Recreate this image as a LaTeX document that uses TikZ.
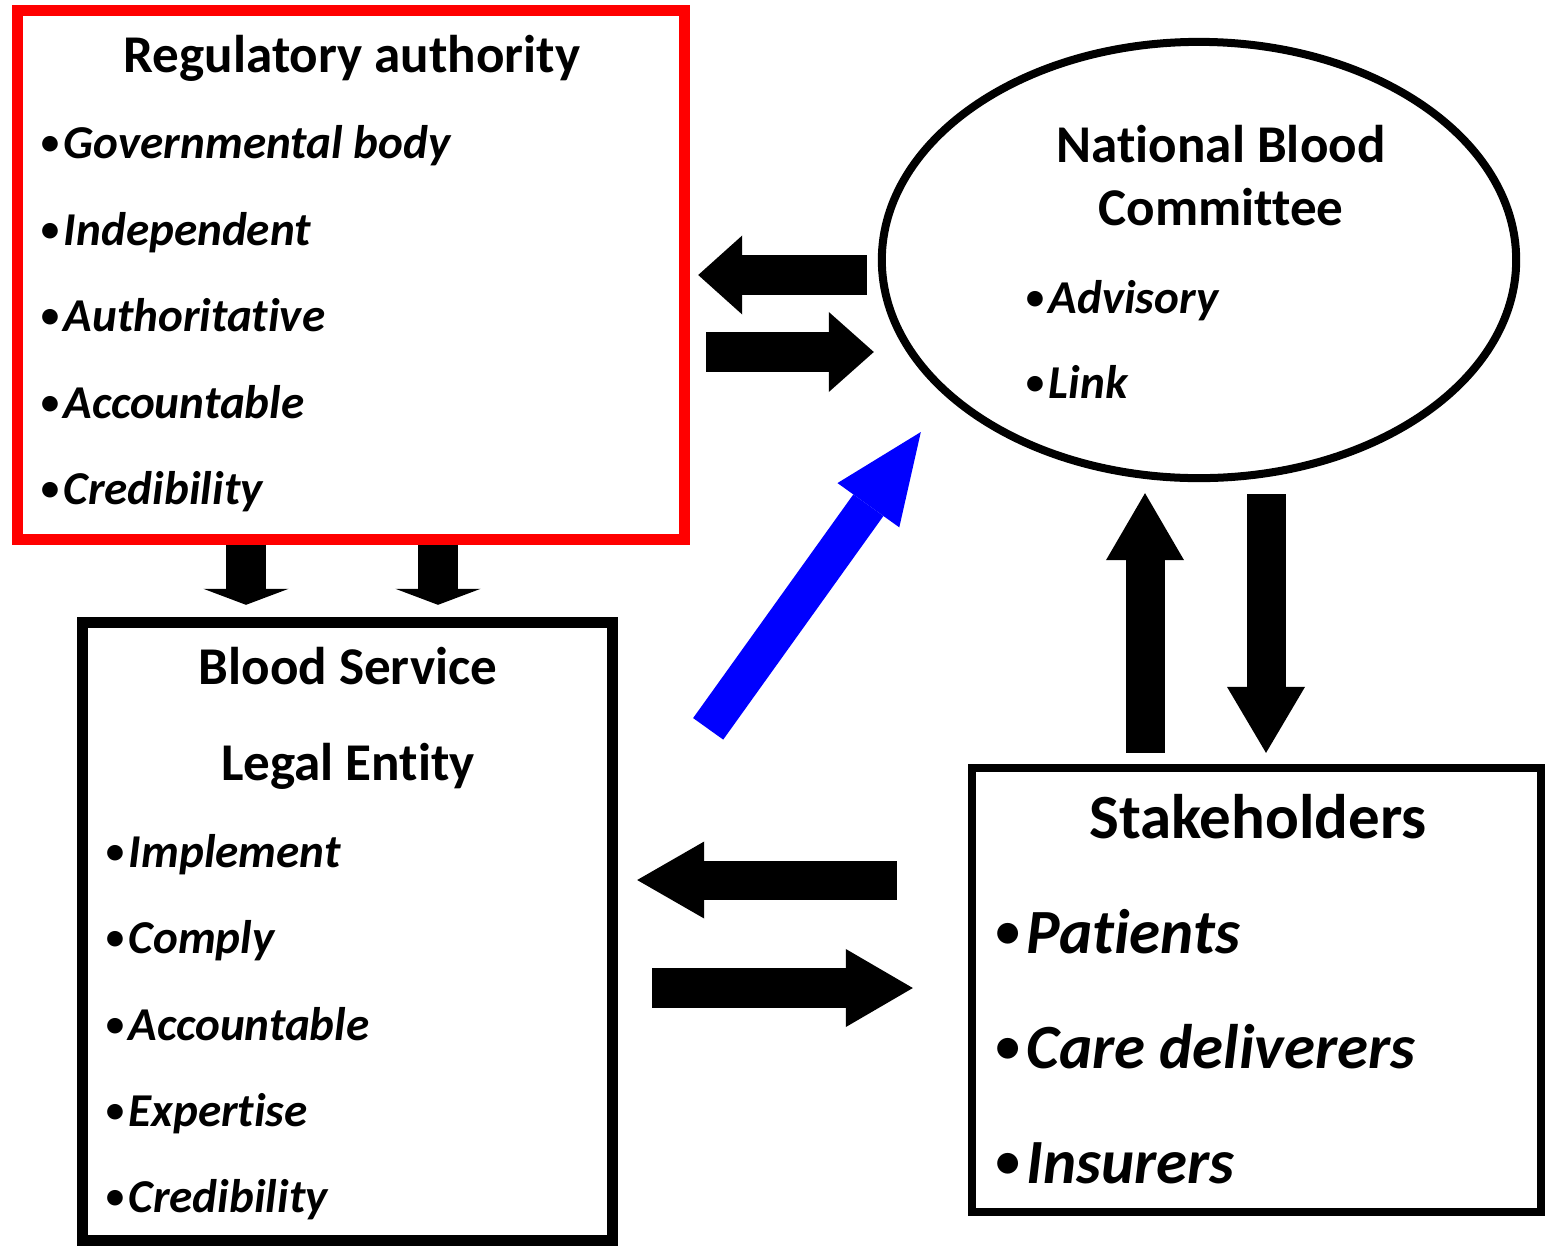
\documentclass[tikz,border=0pt]{standalone}
\usepackage{fontspec}
\setmainfont{Carlito}[Ligatures=NoCommon]
\usetikzlibrary{shapes.geometric, arrows.meta}

\newcommand\bul{\raisebox{0.08em}{\scalebox{0.78}{•}}\hspace{0.1em}}

\tikzset{
    box/.style={draw, rectangle, line width=1.1mm},
    heading/.style={inner sep=0pt, anchor=base, font=\bfseries\fontsize{15.1pt}{18pt}\selectfont},
    bigheading/.style={inner sep=0pt, anchor=base, font=\bfseries\fontsize{17.9pt}{21pt}\selectfont},
    item/.style={inner sep=0pt, anchor=base west, font=\bfseries\itshape\fontsize{13.4pt}{16pt}\selectfont},
    bigitem/.style={inner sep=0pt, anchor=base west, font=\bfseries\itshape\fontsize{17.9pt}{21pt}\selectfont},
    wide arrow/.style n args={2}{line width=4mm, -{Triangle[length=#1, width=#2, line width=0pt]}}
}

\begin{document}
\begin{tikzpicture}[x=0.01cm, y=-0.01cm]
    \useasboundingbox (0,0) rectangle (1546,1245);

    % the four bodies
    \node[box, draw=red, minimum width=6.66cm, minimum height=5.28cm] (reg) at (351,275) {};
    \node[box, minimum width=5.29cm, minimum height=6.17cm] (blood) at (347.5,931.5) {};
    \node[draw, ellipse, line width=0.8mm, minimum width=6.34cm, minimum height=4.36cm] (nbc) at (1199,260) {};
    \node[box, line width=0.8mm, minimum width=5.69cm, minimum height=4.44cm] (stake) at (1256.5,990) {};

    % regulatory authority
    \node[heading] (rtitle) at (352,72) {Regulatory authority};
    \node[item] (rgov) at (40,158) {\bul Governmental body};
    \node[item] (rind) at (40,245) {\bul Independent};
    \node[item] (rauth) at (40,331) {\bul Authoritative};
    \node[item] (racc) at (40,418) {\bul Accountable};
    \node[item] (rcred) at (40,504) {\bul Credibility};

    % blood service
    \node[heading] (btitle) at (348,684) {Blood Service};
    \node[heading] (blegal) at (348,780) {Legal Entity};
    \node[item] (bimpl) at (105,867) {\bul Implement};
    \node[item] (bcomp) at (105,953) {\bul Comply};
    \node[item] (bacc) at (105,1040) {\bul Accountable};
    \node[item] (bexp) at (105,1126) {\bul Expertise};
    \node[item] (bcred) at (105,1212) {\bul Credibility};

    % national blood committee
    \node[heading] (ntitle) at (1221,162) {National Blood};
    \node[heading] (ncomm) at (1221,225) {Committee};
    \node[item] (nadv) at (1025,313) {\bul Advisory};
    \node[item] (nlink) at (1025,398) {\bul Link};

    % stakeholders
    \node[bigheading] (stitle) at (1258,838) {Stakeholders};
    \node[bigitem] (spat) at (995,953) {\bul Patients};
    \node[bigitem] (scare) at (995,1068) {\bul Care deliverers};
    \node[bigitem] (sins) at (995,1183) {\bul Insurers};

    % block arrows
    \draw[wide arrow={4.4mm}{7.9mm}] ([shift={(-11,15)}]nbc.west) -- ([shift={(8.5,0)}]reg.east);
    \draw[wide arrow={4.5mm}{8mm}] ([shift={(16.5,77)}]reg.east) -- ([shift={(-4,92)}]nbc.west);
    \draw[wide arrow={1.6mm}{8.5mm}] ([shift={(-105,0)}]reg.south) -- ([shift={(-101.5,-12.5)}]blood.north);
    \draw[wide arrow={1.6mm}{8.5mm}] ([shift={(87,0)}]reg.south) -- ([shift={(90.5,-12.5)}]blood.north);
    \draw[wide arrow={6.7mm}{7.8mm}, line width=3.9mm] ([shift={(-111.5,-11)}]stake.north) -- ([shift={(-54,11)}]nbc.south);
    \draw[wide arrow={6.6mm}{7.8mm}, line width=3.9mm] ([shift={(67,12)}]nbc.south) -- ([shift={(9.5,-11)}]stake.north);
    \draw[wide arrow={6.7mm}{7.7mm}, line width=3.9mm] ([shift={(-71,-110)}]stake.west) -- ([shift={(19.5,-51.5)}]blood.east);
    \draw[wide arrow={6.7mm}{7.8mm}] ([shift={(34.5,56.5)}]blood.east) -- ([shift={(-55,-2)}]stake.west);
    \draw[wide arrow={9mm}{7.6mm}, line width=3.7mm, blue] ([shift={(90.5,111.5)}]blood.north east) -- ([shift={(43,172)}]nbc.west);
\end{tikzpicture}
\end{document}
